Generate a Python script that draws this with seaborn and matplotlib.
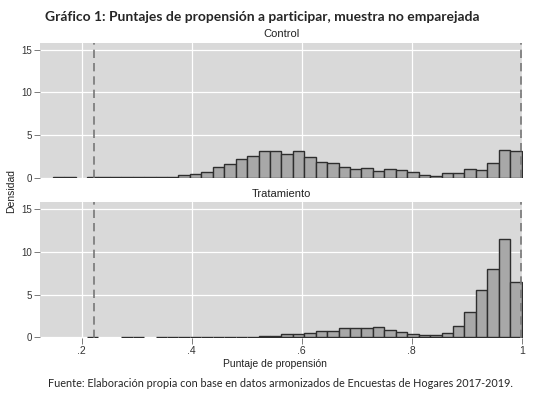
import numpy as np
import pandas as pd
import seaborn as sns
import matplotlib.pyplot as plt

# histogram layout (41 bins between the min and max propensity score)
bin_start = 0.1473
bin_stop = 0.9995
n_bins = 41

# bar heights (density), one per bin, left to right
control = [0.05, 0.05, 0.0, 0.03, 0.03, 0.03, 0.03, 0.04, 0.04, 0.08, 0.1,
           0.28, 0.38, 0.70, 1.21, 1.56, 2.23, 2.50, 3.16, 3.16, 2.73,
           3.09, 2.42, 1.80, 1.68, 1.29, 1.07, 1.09, 0.74, 1.02, 0.86,
           0.66, 0.31, 0.20, 0.51, 0.51, 1.05, 0.86, 1.68, 3.24, 3.09]
tratamiento = [0.0, 0.0, 0.0, 0.05, 0.0, 0.0, 0.05, 0.05, 0.0, 0.05, 0.05,
               0.05, 0.03, 0.03, 0.03, 0.06, 0.06, 0.08, 0.20, 0.16, 0.43,
               0.35, 0.47, 0.78, 0.78, 1.05, 1.15, 1.05, 1.23, 0.90, 0.66,
               0.39, 0.31, 0.31, 0.55, 1.29, 2.97, 5.51, 7.97, 11.56, 6.48]

# common support limits (dashed lines)
soporte = [0.2229, 0.9975]

x_ticks = [0.2, 0.4, 0.6, 0.8, 1.0]
x_labels = ['.2', '.4', '.6', '.8', '1']
y_ticks = [0, 5, 10, 15]

edges = list(np.linspace(bin_start, bin_stop, n_bins + 1))
centers = [(a + b) / 2 for a, b in zip(edges[:-1], edges[1:])]
df = pd.DataFrame({
    'score': centers + centers,
    'dens': control + tratamiento,
    'grupo': ['Control'] * n_bins + ['Tratamiento'] * n_bins,
})

sns.set_style('white')
plt.rcParams['font.family'] = ['Liberation Sans', 'DejaVu Sans']

fig = plt.figure(figsize=(5.33, 3.98), dpi=100)
ax1 = fig.add_axes([0.075, 0.552, 0.906, 0.3407])
ax2 = fig.add_axes([0.075, 0.1508, 0.906, 0.3417])

for ax, grupo in [(ax1, 'Control'), (ax2, 'Tratamiento')]:
    ax.set_facecolor('#d9d9d9')
    ax.grid(True, color='white', linewidth=0.9)
    ax.set_axisbelow(True)
    sub = df[df['grupo'] == grupo]
    sns.histplot(data=sub, x='score', weights='dens', bins=edges, ax=ax,
                 color='#a8a8a8', edgecolor='#2e2e2e', linewidth=1.0,
                 alpha=1)
    # Stata leaves empty bins blank
    for p in ax.patches:
        if p.get_height() == 0:
            p.set_visible(False)
    for v in soporte:
        ax.axvline(v, color='#777777', linestyle=(0, (5, 3)), linewidth=1.2)
    ax.set_xlim(0.1242, 1.0018)
    ax.set_ylim(-0.07, 15.83)
    ax.set_xticks(x_ticks)
    ax.set_yticks(y_ticks)
    ax.set_ylabel('')
    ax.set_xlabel('')
    for s in ax.spines.values():
        s.set_visible(False)
    ax.tick_params(axis='y', left=True, length=4, width=0.6, color='#666666',
                   labelsize=7, labelcolor='#333333', pad=2)
    ax.text(0.5, 1.025, grupo, transform=ax.transAxes, ha='center',
            va='bottom', fontsize=8, color='#222222')

ax1.tick_params(axis='x', bottom=False, labelbottom=False)
ax2.set_xticklabels(x_labels)
ax2.tick_params(axis='x', bottom=True, length=4, width=0.6, color='#666666',
                labelsize=7.5, labelcolor='#333333', pad=2)

fig.text(0.084, 0.957, 'Gráfico 1: Puntajes de propensión a participar, muestra no emparejada',
         ha='left', va='center', fontsize=10, fontweight='bold',
         family=['Lato', 'DejaVu Sans'])
fig.text(0.02, 0.52, 'Densidad', rotation=90, ha='center', va='center',
         fontsize=7.5, color='#222222')
fig.text(0.516, 0.085, 'Puntaje de propensión', ha='center', va='center',
         fontsize=7.5, color='#222222')
fig.text(0.526, 0.037,
         'Fuente: Elaboración propia con base en datos armonizados de Encuestas de Hogares 2017-2019.',
         ha='center', va='center', fontsize=7.8, family=['Lato', 'DejaVu Sans'])

fig.savefig('out.png', dpi=100)
